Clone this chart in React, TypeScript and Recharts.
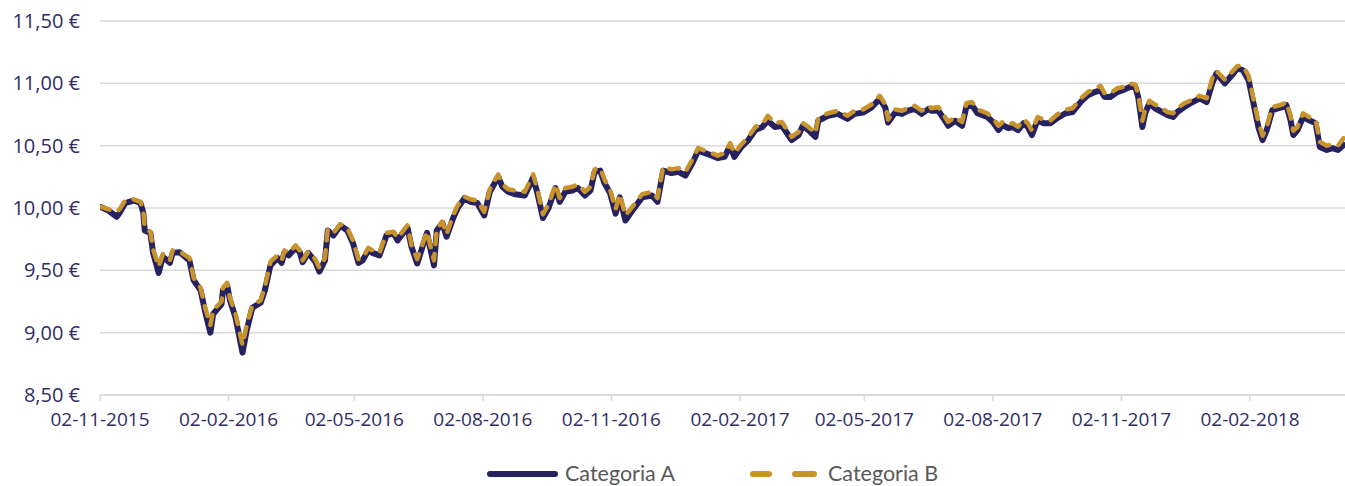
import React from 'react';
import { LineChart, Line, XAxis, YAxis, CartesianGrid } from 'recharts';

const dates = [
  '2015-11-02', '2015-11-08', '2015-11-14', '2015-11-16', '2015-11-20', '2015-11-26', '2015-12-01', '2015-12-03',
  '2015-12-04', '2015-12-08', '2015-12-10', '2015-12-14', '2015-12-17', '2015-12-22', '2015-12-24', '2015-12-29',
  '2016-01-05', '2016-01-08', '2016-01-13', '2016-01-16', '2016-01-20', '2016-01-22', '2016-01-28', '2016-01-29',
  '2016-02-01', '2016-02-03', '2016-02-07', '2016-02-12', '2016-02-15', '2016-02-19', '2016-02-25', '2016-02-28',
  '2016-03-03', '2016-03-08', '2016-03-11', '2016-03-13', '2016-03-16', '2016-03-21', '2016-03-24', '2016-03-26',
  '2016-03-30', '2016-04-04', '2016-04-07', '2016-04-11', '2016-04-13', '2016-04-17', '2016-04-22', '2016-04-27',
  '2016-05-01', '2016-05-05', '2016-05-08', '2016-05-12', '2016-05-15', '2016-05-20', '2016-05-25', '2016-05-30',
  '2016-06-02', '2016-06-09', '2016-06-12', '2016-06-16', '2016-06-19', '2016-06-23', '2016-06-28', '2016-06-30',
  '2016-07-04', '2016-07-07', '2016-07-12', '2016-07-15', '2016-07-20', '2016-07-24', '2016-07-29', '2016-08-03',
  '2016-08-07', '2016-08-13', '2016-08-16', '2016-08-20', '2016-08-25', '2016-09-01', '2016-09-07', '2016-09-10',
  '2016-09-14', '2016-09-18', '2016-09-23', '2016-09-26', '2016-09-30', '2016-10-05', '2016-10-09', '2016-10-14',
  '2016-10-18', '2016-10-21', '2016-10-25', '2016-10-28', '2016-11-01', '2016-11-05', '2016-11-08', '2016-11-12',
  '2016-11-17', '2016-11-24', '2016-12-01', '2016-12-05', '2016-12-09', '2016-12-15', '2016-12-20', '2016-12-25',
  '2016-12-30', '2017-01-03', '2017-01-08', '2017-01-13', '2017-01-17', '2017-01-22', '2017-01-26', '2017-01-29',
  '2017-02-03', '2017-02-08', '2017-02-13', '2017-02-18', '2017-02-22', '2017-02-27', '2017-03-04', '2017-03-11',
  '2017-03-16', '2017-03-19', '2017-03-23', '2017-03-28', '2017-03-30', '2017-04-06', '2017-04-13', '2017-04-20',
  '2017-04-25', '2017-05-01', '2017-05-07', '2017-05-13', '2017-05-17', '2017-05-19', '2017-05-24', '2017-05-29',
  '2017-06-02', '2017-06-07', '2017-06-12', '2017-06-17', '2017-06-19', '2017-06-24', '2017-06-27', '2017-07-01',
  '2017-07-06', '2017-07-11', '2017-07-14', '2017-07-18', '2017-07-22', '2017-07-29', '2017-08-02', '2017-08-06',
  '2017-08-09', '2017-08-13', '2017-08-16', '2017-08-20', '2017-08-24', '2017-08-27', '2017-08-30', '2017-09-03',
  '2017-09-07', '2017-09-12', '2017-09-17', '2017-09-23', '2017-09-28', '2017-10-05', '2017-10-09', '2017-10-14',
  '2017-10-18', '2017-10-21', '2017-10-25', '2017-10-30', '2017-11-03', '2017-11-08', '2017-11-12', '2017-11-14',
  '2017-11-17', '2017-11-19', '2017-11-22', '2017-11-26', '2017-12-01', '2017-12-05', '2017-12-09', '2017-12-12',
  '2017-12-17', '2017-12-23', '2017-12-28', '2018-01-02', '2018-01-06', '2018-01-09', '2018-01-15', '2018-01-20',
  '2018-01-24', '2018-01-28', '2018-02-01', '2018-02-04', '2018-02-08', '2018-02-11', '2018-02-14', '2018-02-18',
  '2018-02-25', '2018-02-28', '2018-03-03', '2018-03-05', '2018-03-08', '2018-03-12', '2018-03-16', '2018-03-21',
  '2018-03-24', '2018-03-29', '2018-04-02', '2018-04-06', '2018-04-10',
];

const categoriaA = [
  10.01, 9.98, 9.93, 9.96, 10.04, 10.06, 10.04, 9.96,
  9.82, 9.80, 9.64, 9.48, 9.61, 9.56, 9.64, 9.645,
  9.58, 9.42, 9.34, 9.18, 9.00, 9.15, 9.23, 9.34,
  9.38, 9.26, 9.12, 8.84, 9.02, 9.20, 9.24, 9.34,
  9.54, 9.60, 9.56, 9.645, 9.62, 9.68, 9.645, 9.565,
  9.64, 9.57, 9.49, 9.58, 9.82, 9.78, 9.86, 9.82,
  9.72, 9.56, 9.58, 9.66, 9.64, 9.62, 9.78, 9.80,
  9.74, 9.845, 9.685, 9.555, 9.66, 9.80, 9.54, 9.82,
  9.88, 9.77, 9.925, 10.00, 10.08, 10.05, 10.04, 9.94,
  10.13, 10.25, 10.17, 10.13, 10.11, 10.10, 10.245, 10.12,
  9.92, 10.00, 10.16, 10.05, 10.13, 10.14, 10.16, 10.10,
  10.14, 10.29, 10.30, 10.20, 10.12, 9.955, 10.085, 9.90,
  9.98, 10.085, 10.10, 10.05, 10.30, 10.28, 10.29, 10.26,
  10.36, 10.46, 10.44, 10.42, 10.40, 10.41, 10.50, 10.41,
  10.49, 10.545, 10.625, 10.65, 10.70, 10.65, 10.66, 10.545,
  10.585, 10.66, 10.625, 10.57, 10.70, 10.74, 10.755, 10.715,
  10.755, 10.765, 10.805, 10.875, 10.805, 10.685, 10.765, 10.755,
  10.78, 10.795, 10.755, 10.795, 10.78, 10.78, 10.73, 10.66,
  10.70, 10.66, 10.81, 10.825, 10.76, 10.73, 10.69, 10.625,
  10.665, 10.64, 10.65, 10.625, 10.68, 10.65, 10.585, 10.705,
  10.68, 10.68, 10.72, 10.76, 10.77, 10.865, 10.905, 10.93,
  10.945, 10.89, 10.89, 10.93, 10.945, 10.97, 10.97, 10.89,
  10.65, 10.76, 10.84, 10.80, 10.77, 10.745, 10.73, 10.77,
  10.81, 10.85, 10.88, 10.85, 11.00, 11.08, 11.00, 11.065,
  11.12, 11.105, 11.025, 10.865, 10.65, 10.545, 10.625, 10.785,
  10.81, 10.825, 10.705, 10.585, 10.625, 10.73, 10.705, 10.68,
  10.49, 10.465, 10.48, 10.465, 10.505,
];

const categoriaB = [
  10.01, 9.99, 9.97, 9.99, 10.06, 10.07, 10.05, 9.98,
  9.84, 9.81, 9.67, 9.53, 9.63, 9.58, 9.66, 9.65,
  9.60, 9.44, 9.36, 9.21, 9.06, 9.18, 9.25, 9.36,
  9.40, 9.28, 9.15, 8.90, 9.06, 9.22, 9.26, 9.37,
  9.57, 9.62, 9.58, 9.66, 9.64, 9.70, 9.66, 9.58,
  9.65, 9.59, 9.52, 9.60, 9.83, 9.80, 9.87, 9.84,
  9.74, 9.59, 9.60, 9.68, 9.66, 9.64, 9.80, 9.81,
  9.76, 9.86, 9.70, 9.59, 9.68, 9.81, 9.58, 9.83,
  9.89, 9.79, 9.95, 10.02, 10.09, 10.07, 10.06, 9.97,
  10.15, 10.27, 10.19, 10.15, 10.14, 10.13, 10.27, 10.15,
  9.95, 10.03, 10.19, 10.08, 10.16, 10.17, 10.19, 10.13,
  10.17, 10.31, 10.32, 10.23, 10.15, 9.99, 10.11, 9.94,
  10.01, 10.11, 10.13, 10.08, 10.33, 10.31, 10.32, 10.29,
  10.39, 10.48, 10.46, 10.44, 10.42, 10.44, 10.52, 10.44,
  10.51, 10.57, 10.65, 10.67, 10.74, 10.68, 10.69, 10.57,
  10.61, 10.68, 10.65, 10.60, 10.72, 10.76, 10.78, 10.74,
  10.78, 10.79, 10.83, 10.90, 10.83, 10.71, 10.79, 10.78,
  10.80, 10.82, 10.78, 10.82, 10.80, 10.81, 10.76, 10.69,
  10.73, 10.69, 10.84, 10.85, 10.79, 10.76, 10.72, 10.66,
  10.69, 10.67, 10.68, 10.65, 10.71, 10.68, 10.62, 10.73,
  10.71, 10.70, 10.75, 10.79, 10.80, 10.89, 10.93, 10.96,
  10.98, 10.92, 10.92, 10.96, 10.97, 11.00, 10.99, 10.91,
  10.70, 10.79, 10.86, 10.83, 10.80, 10.77, 10.76, 10.80,
  10.84, 10.87, 10.90, 10.88, 11.04, 11.10, 11.03, 11.09,
  11.14, 11.14, 11.06, 10.90, 10.69, 10.58, 10.65, 10.81,
  10.83, 10.85, 10.74, 10.62, 10.65, 10.76, 10.73, 10.71,
  10.53, 10.50, 10.51, 10.50, 10.56,
];

const xTickDates = [
  '2015-11-02', '2016-02-02', '2016-05-02', '2016-08-02', '2016-11-02',
  '2017-02-02', '2017-05-02', '2017-08-02', '2017-11-02', '2018-02-02',
];
const yTicks = [8.5, 9, 9.5, 10, 10.5, 11, 11.5];

const rows = dates.map((d, i) => ({ t: Date.parse(d), a: categoriaA[i], b: categoriaB[i] }));
const xTicks = xTickDates.map((d) => Date.parse(d));
const xDomain = [Date.parse('2015-11-02'), Date.parse('2018-04-11')];

const NAVY = '#262262';
const GOLD = '#c8932b';
const LABEL = '#302d66';

const pad = (n: number) => (n < 10 ? '0' + n : '' + n);
const fmtDate = (v: number) => {
  const d = new Date(v);
  return `${pad(d.getUTCDate())}-${pad(d.getUTCMonth() + 1)}-${d.getUTCFullYear()}`;
};
const fmtEuro = (v: number) => v.toFixed(2).replace('.', ',') + ' €';

const App: React.FC = () => {
  return (
    <div style={{ position: 'absolute', left: 0, top: 0, width: 1345, height: 486, background: '#fff', overflow: 'hidden' }}>
      <LineChart width={1345} height={486} data={rows} margin={{ top: 21, right: 0, bottom: 61, left: 0 }}>
        <CartesianGrid vertical={false} stroke="#d9d9d9" strokeWidth={1.5} />
        <XAxis
          dataKey="t"
          type="number"
          scale="time"
          domain={xDomain}
          allowDataOverflow
          ticks={xTicks}
          interval={0}
          tickFormatter={fmtDate}
          height={30}
          tickSize={6}
          tickMargin={12}
          axisLine={{ stroke: '#d9d9d9', strokeWidth: 1.5 }}
          tickLine={{ stroke: '#d9d9d9', strokeWidth: 1.5 }}
          tick={{ fill: LABEL, fontSize: 19, fontFamily: 'Open Sans' }}
        />
        <YAxis
          domain={[8.5, 11.5]}
          ticks={yTicks}
          width={100}
          axisLine={false}
          tickLine={false}
          tickSize={0}
          tickMargin={20}
          tickFormatter={fmtEuro}
          tick={{ fill: LABEL, fontSize: 20, fontFamily: 'Open Sans' }}
        />
        <Line type="linear" dataKey="a" stroke={NAVY} strokeWidth={6} strokeLinejoin="round" strokeLinecap="round" dot={false} isAnimationActive={false} />
        <Line type="linear" dataKey="b" stroke={GOLD} strokeWidth={4.5} strokeDasharray="10 10" strokeLinecap="round" strokeLinejoin="round" dot={false} isAnimationActive={false} />
      </LineChart>
      <svg width={1345} height={486} style={{ position: 'absolute', left: 0, top: 0, pointerEvents: 'none' }}>
        <line x1={490} y1={474} x2={555} y2={474} stroke={NAVY} strokeWidth={6} strokeLinecap="round" />
        <text x={565} y={481} fill="#595959" fontSize={21.5} fontFamily="Lato">Categoria A</text>
        <line x1={753} y1={474} x2={769} y2={474} stroke={GOLD} strokeWidth={6} strokeLinecap="round" />
        <line x1={795} y1={474} x2={814} y2={474} stroke={GOLD} strokeWidth={6} strokeLinecap="round" />
        <text x={828} y={481} fill="#595959" fontSize={21.5} fontFamily="Lato">Categoria B</text>
      </svg>
    </div>
  );
};

export default App;
